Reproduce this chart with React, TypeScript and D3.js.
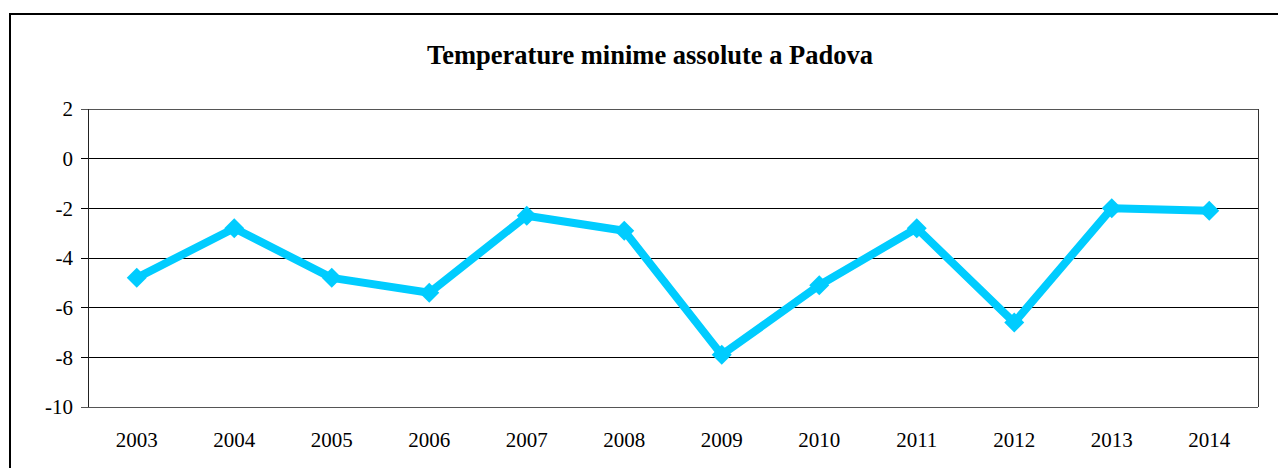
import React from 'react';
import * as d3 from 'd3';

const years = ['2003', '2004', '2005', '2006', '2007', '2008', '2009', '2010', '2011', '2012', '2013', '2014'];
const minTemps = [-4.8, -2.8, -4.8, -5.4, -2.3, -2.9, -7.9, -5.1, -2.8, -6.6, -2.0, -2.1];
const yTicks = [2, 0, -2, -4, -6, -8, -10];

const W = 1278;
const H = 468;
const plot = { left: 88, top: 109, right: 1258, bottom: 407 };
const FONT = '"Liberation Serif", "Times New Roman", serif';
const LINE = '#00CCFF';

export default function App() {
  const x = d3.scaleBand<string>().domain(years).range([plot.left, plot.right]);
  const y = d3.scaleLinear().domain([-10, 2]).range([plot.bottom, plot.top]);

  const cx = (yr: string) => (x(yr) ?? 0) + x.bandwidth() / 2;
  const line = d3.line<number>()
    .x((_, i) => cx(years[i]))
    .y((d) => y(d));

  const d = line(minTemps) ?? '';

  return (
    <svg width={W} height={H} style={{ position: 'absolute', left: 0, top: 0, display: 'block' }}>
      <rect x={0} y={0} width={W} height={H} fill="#fff" />
      {/* chart frame */}
      <rect x={10} y={14} width={1280} height={480} fill="none" stroke="#000" strokeWidth={2} />

      <text x={650} y={64} textAnchor="middle" fontFamily={FONT} fontSize={26.5} fontWeight="bold">
        Temperature minime assolute a Padova
      </text>

      {/* grid lines + y ticks */}
      {yTicks.map((t) => (
        <g key={t}>
          <line x1={plot.left - 7} x2={plot.right} y1={y(t)} y2={y(t)}
            stroke={t === 2 || t === -10 ? '#555' : '#000'} strokeWidth={1} shapeRendering="crispEdges" />
          <text x={73} y={y(t)} dy="0.35em" textAnchor="end" fontFamily={FONT} fontSize={21}>
            {t}
          </text>
        </g>
      ))}
      <line x1={plot.left} x2={plot.left} y1={plot.top} y2={plot.bottom} stroke="#222" shapeRendering="crispEdges" />
      <line x1={plot.right} x2={plot.right} y1={plot.top} y2={plot.bottom} stroke="#333" shapeRendering="crispEdges" />

      {/* x labels */}
      {years.map((yr) => (
        <text key={yr} x={cx(yr)} y={440} dy="0.35em" textAnchor="middle" fontFamily={FONT} fontSize={21}>
          {yr}
        </text>
      ))}

      <path d={d} fill="none" stroke={LINE} strokeWidth={8} strokeLinejoin="round" />
      {minTemps.map((v, i) => {
        const px = cx(years[i]);
        const py = y(v);
        const s = 10;
        return (
          <path key={i} d={`M${px},${py - s}L${px + s},${py}L${px},${py + s}L${px - s},${py}Z`} fill={LINE} />
        );
      })}
    </svg>
  );
}
